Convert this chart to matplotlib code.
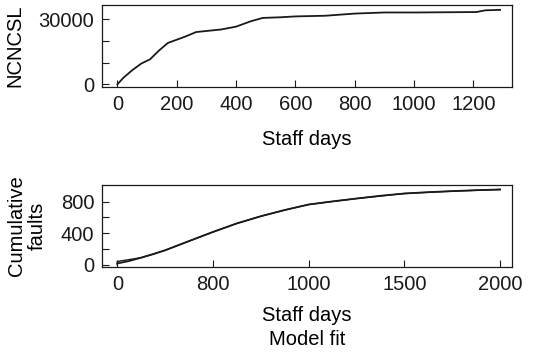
import matplotlib
matplotlib.use('Agg')
import matplotlib.pyplot as plt

# cumulative non-comment source lines vs staff days
size_days = [0, 20, 50, 80, 110, 140, 170, 200, 230, 265, 300, 350, 400, 420, 450,
             490, 550, 600, 700, 800, 900, 1000, 1100, 1210, 1240, 1290]
size_ncncsl = [0, 3000, 6500, 9500, 11500, 15500, 19000, 20500, 22000, 24000, 24500,
               25200, 26500, 27500, 29000, 30500, 30800, 31200, 31500, 32500, 33000,
               33000, 33100, 33200, 34000, 34200]

# cumulative faults and fitted model
fault_days = [0, 0, 125, 250, 375, 500, 625, 750, 875, 1000, 1250, 1500, 1750, 2000]
fault_counts = [0, 40, 89, 183, 300, 416, 525, 616, 695, 765, 841, 905, 935, 956]
fit_days = [0, 60, 125, 190, 250, 375, 500, 625, 750, 875, 1000, 1125, 1250, 1375,
            1500, 1625, 1750, 1875, 2000]
fit_counts = [15, 45, 89, 135, 183, 300, 416, 525, 616, 695, 765, 805, 841, 876,
              905, 922, 935, 947, 956]

top_xticks = [0, 200, 400, 600, 800, 1000, 1200]
top_yticks = [0, 10000, 20000, 30000]
top_ylabels = ['0', '', '', '30000']
bot_xticks = [0, 500, 1000, 1500, 2000]
bot_xlabels = ['0', '800', '1000', '1500', '2000']
bot_yticks = [0, 200, 400, 600, 800]
bot_ylabels = ['0', '', '400', '', '800']

plt.rcParams['font.family'] = ['Liberation Sans', 'DejaVu Sans']
plt.rcParams['font.size'] = 14.5

fig = plt.figure(figsize=(5.47, 3.56), dpi=100)
ax1 = fig.add_axes([0.1865, 0.7556, 0.7495, 0.2303])
ax2 = fig.add_axes([0.1865, 0.25, 0.7495, 0.2303])

ax1.plot(size_days, size_ncncsl, color='#1a1a1a', lw=1.3)
ax1.set_xlim(-52, 1330)
ax1.set_ylim(-1240, 36430)
ax1.set_xticks(top_xticks)
ax1.set_yticks(top_yticks)
ax1.set_yticklabels(top_ylabels)
ax1.set_xlabel('Staff days', labelpad=12)
ax1.set_ylabel('NCNCSL', labelpad=10)

ax2.plot(fault_days, fault_counts, color='#1a1a1a', lw=1.0)
ax2.plot(fit_days, fit_counts, color='#1a1a1a', lw=1.3)
ax2.set_xlim(-80, 2062)
ax2.set_ylim(-30, 1013)
ax2.set_xticks(bot_xticks)
ax2.set_xticklabels(bot_xlabels)
ax2.set_yticks(bot_yticks)
ax2.set_yticklabels(bot_ylabels)
ax2.set_xlabel('Staff days\nModel fit', labelpad=9, linespacing=1.3)
ax2.set_ylabel('Cumulative\nfaults', labelpad=10, linespacing=1.15)

for ax in (ax1, ax2):
    ax.tick_params(direction='in', length=5, width=0.8, pad=5.5, colors='#1a1a1a')
    for s in ax.spines.values():
        s.set_linewidth(0.9)
        s.set_color('#1a1a1a')

fig.savefig('out.png', dpi=100)
